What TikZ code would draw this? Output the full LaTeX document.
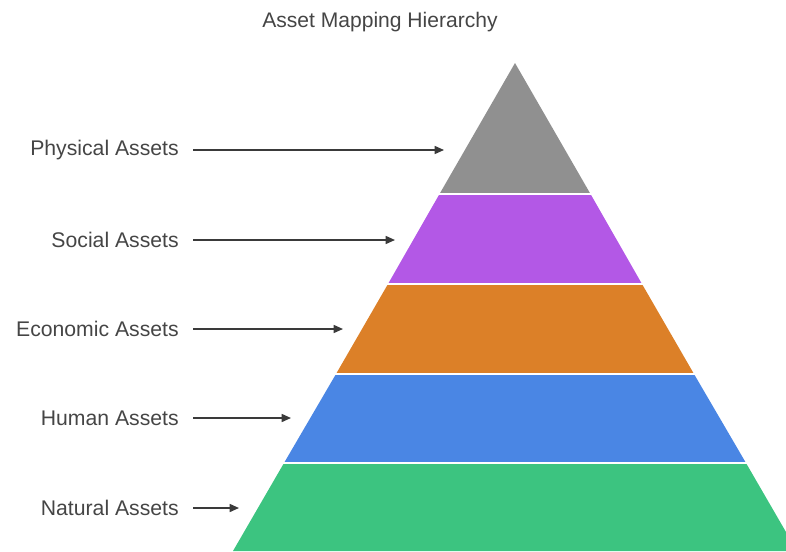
\documentclass[tikz,border=0pt]{standalone}
\usepackage{fontspec}
\setmainfont{Liberation Sans}
\usetikzlibrary{arrows.meta}
\definecolor{txtc}{HTML}{454545}
\definecolor{arrc}{HTML}{3A3A3A}
\definecolor{cgray}{HTML}{909090}
\definecolor{cpurple}{HTML}{B358E6}
\definecolor{corange}{HTML}{DC8028}
\definecolor{cblue}{HTML}{4A86E4}
\definecolor{cgreen}{HTML}{3CC480}
\tikzset{
  lbl/.style={anchor=east, text=txtc, font=\fontsize{15.9pt}{17pt}\selectfont, inner sep=0pt},
  ttl/.style={text=txtc, font=\fontsize{15.8pt}{17pt}\selectfont, inner sep=0pt},
  arr/.style={draw=arrc, line width=1.1pt, -{Triangle[length=7pt,width=6pt]}}
}
\begin{document}
\begin{tikzpicture}[x=0.75pt,y=-0.75pt]
\useasboundingbox (0,0) rectangle (786,551);
\begin{scope}
\clip (0,0) rectangle (786,551);
% layers (half-width = 0.578*(y-63), apex at x=515)
\fill[cgreen]  (284,463) -- (746,463) -- (797,551) -- (233,551) -- cycle;
\fill[cblue]   (336,374) -- (694,374) -- (746,463) -- (284,463) -- cycle;
\fill[corange] (388,284) -- (642,284) -- (694,374) -- (336,374) -- cycle;
\fill[cpurple] (439.5,194) -- (590.5,194) -- (642,284) -- (388,284) -- cycle;
\fill[cgray]   (515,63) -- (590.5,194) -- (439.5,194) -- cycle;
\draw[white, line width=1.5pt] (380,194) -- (650,194);
\draw[white, line width=1.5pt] (330,284) -- (700,284);
\draw[white, line width=1.5pt] (280,374) -- (750,374);
\draw[white, line width=1.5pt] (230,463) -- (800,463);
\end{scope}
\node[ttl] (title) at (380,22) {Asset Mapping Hierarchy};
\node[lbl] (phys) at (179,150) {Physical Assets};
\node[lbl] (soc) at (179,240) {Social Assets};
\node[lbl] (eco) at (179,329) {Economic Assets};
\node[lbl] (hum) at (179,418) {Human Assets};
\node[lbl] (nat) at (179,508) {Natural Assets};
\coordinate (tphys) at (444,150);
\coordinate (tsoc) at (395,240);
\coordinate (teco) at (343,329);
\coordinate (thum) at (291,418);
\coordinate (tnat) at (239,508);
\draw[arr] ([xshift=10.5pt]phys.east) -- (tphys);
\draw[arr] ([xshift=10.5pt]soc.east) -- (tsoc);
\draw[arr] ([xshift=10.5pt]eco.east) -- (teco);
\draw[arr] ([xshift=10.5pt]hum.east) -- (thum);
\draw[arr] ([xshift=10.5pt]nat.east) -- (tnat);
\end{tikzpicture}
\end{document}
